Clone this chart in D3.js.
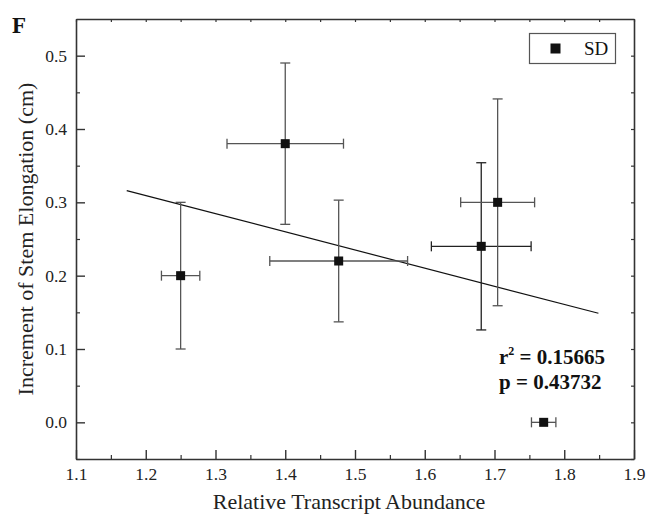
<!DOCTYPE html>
<html><head><meta charset="utf-8">
<script src="https://cdn.jsdelivr.net/npm/d3@7"></script>
<style>body{margin:0;background:#fff}svg{display:block}text{font-family:"Liberation Serif","Times New Roman",serif}</style>
</head><body><svg id="c" width="659" height="520"></svg>
<script>
const xVals = [1.25, 1.40, 1.4766, 1.681, 1.7045, 1.7705];
const yVals = [0.20, 0.38, 0.22, 0.24, 0.30, 0.00];
const xErr = [0.0275, 0.0835, 0.0988, 0.0715, 0.053, 0.0175];
const yErrUp = [0.10, 0.11, 0.083, 0.114, 0.141, 0];
const yErrDown = [0.10, 0.11, 0.083, 0.114, 0.141, 0];
const fitX = [1.1727, 1.849];
const fitY = [0.316, 0.1487];
const xTicks = [1.1, 1.2, 1.3, 1.4, 1.5, 1.6, 1.7, 1.8, 1.9];
const yTicks = [0.0, 0.1, 0.2, 0.3, 0.4, 0.5];
const xMinor = [1.15, 1.25, 1.35, 1.45, 1.55, 1.65, 1.75, 1.85];
const yMinor = [-0.05, 0.05, 0.15, 0.25, 0.35, 0.45];
const stats = ["0.15665", "0.43732"];

const svg = d3.select("#c");
const L = 76, R = 634, T = 19, B = 459;
const x = d3.scaleLinear().domain([1.1, 1.9]).range([L, R]);
const y = d3.scaleLinear().domain([-0.05, 0.55]).range([B, T]);
const axCol = "#333";
const tickFont = 17.5;

const g = svg.append("g");
// bottom axis
g.append("g").attr("transform", `translate(0,${B})`)
  .call(d3.axisBottom(x).tickValues(xTicks).tickSizeInner(-9).tickSizeOuter(0).tickPadding(9).tickFormat(d3.format(".1f")))
  .call(a => { a.select(".domain").attr("stroke", axCol).attr("stroke-width", 1.6); a.selectAll("line").attr("stroke", axCol).attr("stroke-width", 1.4); a.selectAll("text").attr("font-size", tickFont).attr("fill", "#222").attr("font-family", "Liberation Serif"); });
g.append("g").attr("transform", `translate(0,${B})`)
  .call(d3.axisBottom(x).tickValues(xMinor).tickSizeInner(-4).tickSizeOuter(0).tickFormat(""))
  .call(a => { a.select(".domain").remove(); a.selectAll("line").attr("stroke", axCol).attr("stroke-width", 1.2); });
// left axis
g.append("g").attr("transform", `translate(${L},0)`)
  .call(d3.axisLeft(y).tickValues(yTicks).tickSizeInner(-9).tickSizeOuter(0).tickPadding(9).tickFormat(d3.format(".1f")))
  .call(a => { a.select(".domain").attr("stroke", axCol).attr("stroke-width", 1.6); a.selectAll("line").attr("stroke", axCol).attr("stroke-width", 1.4); a.selectAll("text").attr("font-size", tickFont).attr("fill", "#222").attr("font-family", "Liberation Serif"); });
g.append("g").attr("transform", `translate(${L},0)`)
  .call(d3.axisLeft(y).tickValues(yMinor).tickSizeInner(-4).tickSizeOuter(0).tickFormat(""))
  .call(a => { a.select(".domain").remove(); a.selectAll("line").attr("stroke", axCol).attr("stroke-width", 1.2); });
// top axis
g.append("g").attr("transform", `translate(0,${T})`)
  .call(d3.axisTop(x).tickValues(xTicks.concat(xMinor)).tickSizeInner(-3).tickSizeOuter(0).tickFormat(""))
  .call(a => { a.select(".domain").attr("stroke", axCol).attr("stroke-width", 1.6); a.selectAll("line").attr("stroke", axCol).attr("stroke-width", 1.2); });
// right axis
g.append("g").attr("transform", `translate(${R},0)`)
  .call(d3.axisRight(y).tickValues(yTicks.concat(yMinor)).tickSizeInner(-3).tickSizeOuter(0).tickFormat(""))
  .call(a => { a.select(".domain").attr("stroke", axCol).attr("stroke-width", 1.6); a.selectAll("line").attr("stroke", axCol).attr("stroke-width", 1.2); });

// fit line
svg.append("line").attr("x1", x(fitX[0])).attr("y1", y(fitY[0])).attr("x2", x(fitX[1])).attr("y2", y(fitY[1]))
  .attr("stroke", "#111").attr("stroke-width", 1.2);

// error bars
const eb = svg.append("g").attr("stroke-width", 1.3).attr("fill", "none");
const cap = 5;
xVals.forEach((xv, i) => {
  const yv = yVals[i];
  const col = (i === 3) ? "#222" : "#555";
  if (yErrUp[i] > 0) {
    eb.append("line").attr("stroke", col).attr("x1", x(xv)).attr("x2", x(xv)).attr("y1", y(yv + yErrUp[i])).attr("y2", y(yv - yErrDown[i]));
    eb.append("line").attr("stroke", col).attr("x1", x(xv) - cap).attr("x2", x(xv) + cap).attr("y1", y(yv + yErrUp[i])).attr("y2", y(yv + yErrUp[i]));
    eb.append("line").attr("stroke", col).attr("x1", x(xv) - cap).attr("x2", x(xv) + cap).attr("y1", y(yv - yErrDown[i])).attr("y2", y(yv - yErrDown[i]));
  }
  eb.append("line").attr("stroke", col).attr("x1", x(xv - xErr[i])).attr("x2", x(xv + xErr[i])).attr("y1", y(yv)).attr("y2", y(yv));
  eb.append("line").attr("stroke", col).attr("x1", x(xv - xErr[i])).attr("x2", x(xv - xErr[i])).attr("y1", y(yv) - cap).attr("y2", y(yv) + cap);
  eb.append("line").attr("stroke", col).attr("x1", x(xv + xErr[i])).attr("x2", x(xv + xErr[i])).attr("y1", y(yv) - cap).attr("y2", y(yv) + cap);
});

// markers
const ms = 9;
svg.append("g").selectAll("rect").data(xVals).join("rect")
  .attr("x", (d) => x(d) - ms / 2).attr("y", (d, i) => y(yVals[i]) - ms / 2)
  .attr("width", ms).attr("height", ms).attr("fill", "#111");

// legend
svg.append("rect").attr("x", 529.5).attr("y", 33.5).attr("width", 86).attr("height", 30)
  .attr("fill", "#fff").attr("stroke", "#555").attr("stroke-width", 1.2);
svg.append("rect").attr("x", 550.5).attr("y", 43.5).attr("width", 10).attr("height", 10).attr("fill", "#111");
svg.append("text").attr("x", 584).attr("y", 55).attr("font-size", 19).attr("fill", "#111").text("SD");

// stats
const st = svg.append("g").attr("font-weight", "bold").attr("font-size", 21).attr("fill", "#111");
const t1 = st.append("text").attr("x", 499).attr("y", 364);
t1.append("tspan").text("r");
t1.append("tspan").attr("font-size", 12).attr("dy", -9).text("2");
t1.append("tspan").attr("dy", 9).text(" = " + stats[0]);
st.append("text").attr("x", 499).attr("y", 389).text("p = " + stats[1]);

// panel label
svg.append("text").attr("x", 12).attr("y", 33).attr("font-size", 23).attr("font-weight", "bold").attr("fill", "#111").text("F");

// axis titles
svg.append("text").attr("x", 349).attr("y", 509).attr("text-anchor", "middle").attr("font-size", 22).attr("fill", "#222").text("Relative Transcript Abundance");
svg.append("text").attr("transform", `translate(33,${(T + B) / 2}) rotate(-90)`).attr("text-anchor", "middle").attr("font-size", 22).attr("fill", "#222").text("Increment of Stem Elongation (cm)");
</script></body></html>
